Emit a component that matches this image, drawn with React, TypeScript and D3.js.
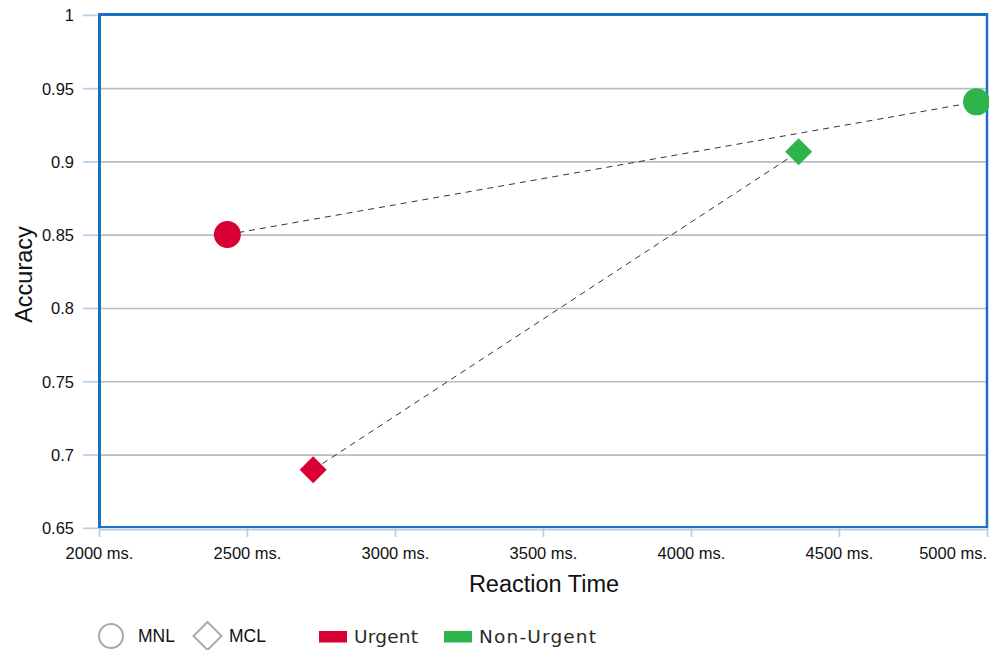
import React from "react";
import * as d3 from "d3";

const groups = ["Urgent", "Non-Urgent"];
const groupColors = ["#d90036", "#2fb44b"];
const models = ["MNL", "MCL"];
const reactionTime: number[][] = [
  [2432, 2722], // Urgent: MNL, MCL
  [4963, 4362], // Non-Urgent: MNL, MCL
];
const accuracy: number[][] = [
  [0.8505, 0.69],
  [0.941, 0.907],
];
const xTicks = [2000, 2500, 3000, 3500, 4000, 4500, 5000];
const yTicks = [0.65, 0.7, 0.75, 0.8, 0.85, 0.9, 0.95, 1];

const W = 989;
const H = 650;
const left = 99.5;
const right = 987.5;
const top = 14.5;
const bottom = 528;

export default function App() {
  const x = d3.scaleLinear().domain([2000, 5000]).range([left, right]);
  const y = d3.scaleLinear().domain([0.65, 1]).range([528.3, 15.4]);
  const sans = "'Liberation Sans', Arial, sans-serif";
  const blue = "#1a70c6";
  const lightBlue = "#b7cde4";
  const diamond = (cx: number, cy: number, r: number) =>
    `M${cx},${cy - r}L${cx + r},${cy}L${cx},${cy + r}L${cx - r},${cy}Z`;

  return (
    <svg width={W} height={H} style={{ position: "absolute", left: 0, top: 0, background: "#fff" }}>
      {/* grid lines */}
      {yTicks.filter((t) => t > 0.65 && t < 1).map((t) => (
        <line key={"g" + t} x1={left} x2={right} y1={y(t)} y2={y(t)} stroke="#bdbdbd" strokeWidth={1.7} />
      ))}
      {/* y ticks */}
      {yTicks.map((t) => (
        <g key={"y" + t}>
          <line x1={83} x2={left} y1={y(t)} y2={y(t)} stroke={lightBlue} strokeWidth={1.7} />
          <text x={74} y={y(t)} dy="0.36em" textAnchor="end" fontFamily={sans} fontSize={16.5} fill="#111">
            {String(t)}
          </text>
        </g>
      ))}
      {/* x axis line & ticks */}
      <line x1={left} x2={right} y1={529.5} y2={529.5} stroke={lightBlue} strokeWidth={2} />
      {xTicks.map((t, i) => (
        <g key={"x" + t}>
          <line x1={x(t)} x2={x(t)} y1={528} y2={537} stroke={lightBlue} strokeWidth={1.7} />
          <text
            x={i === xTicks.length - 1 ? 987 : x(t)}
            y={558.5}
            textAnchor={i === xTicks.length - 1 ? "end" : "middle"}
            fontFamily={sans}
            fontSize={16.5}
            fill="#111"
          >
            {`${t} ms.`}
          </text>
        </g>
      ))}
      {/* frame */}
      <line x1={left} x2={right} y1={top} y2={top} stroke={blue} strokeWidth={3} />
      <line x1={left} x2={left} y1={top - 1.5} y2={bottom} stroke={blue} strokeWidth={3} />
      <line x1={right - 0.5} x2={right - 0.5} y1={top - 1.5} y2={bottom} stroke={blue} strokeWidth={2.5} />
      <line x1={left} x2={right} y1={bottom - 1} y2={bottom - 1} stroke={blue} strokeWidth={2} />
      {/* connecting dashed lines per model */}
      {models.map((m, mi) => (
        <line
          key={"l" + m}
          x1={x(reactionTime[0][mi])}
          y1={y(accuracy[0][mi])}
          x2={x(reactionTime[1][mi])}
          y2={y(accuracy[1][mi])}
          stroke="#333"
          strokeWidth={1}
          strokeDasharray="6,5"
        />
      ))}
      {/* markers */}
      {groups.map((g, gi) =>
        models.map((m, mi) => {
          const cx = x(reactionTime[gi][mi]);
          const cy = y(accuracy[gi][mi]);
          return mi === 0 ? (
            <circle key={g + m} cx={cx} cy={cy} r={13.5} fill={groupColors[gi]} />
          ) : (
            <path key={g + m} d={diamond(cx, cy, 13.5)} fill={groupColors[gi]} />
          );
        })
      )}
      {/* axis titles */}
      <text x={544} y={592} textAnchor="middle" fontFamily={sans} fontSize={23.5} fill="#111">
        Reaction Time
      </text>
      <text
        transform={`translate(32,274.5) rotate(-90)`}
        textAnchor="middle"
        fontFamily={sans}
        fontSize={23.5}
        fill="#111"
      >
        Accuracy
      </text>
      {/* legend: models */}
      <circle cx={111} cy={636} r={12} fill="none" stroke="#aaa" strokeWidth={2} />
      <text x={138} y={641.5} fontFamily={sans} fontSize={17.5} fill="#111">MNL</text>
      <path d={diamond(207.5, 636, 14)} fill="none" stroke="#aaa" strokeWidth={2} />
      <text x={229} y={641.5} fontFamily={sans} fontSize={17.5} fill="#111">MCL</text>
      {/* legend: groups */}
      {groups.map((g, gi) => {
        const lx = gi === 0 ? 319 : 444;
        return (
          <g key={"lg" + g}>
            <rect x={lx} y={631} width={28} height={11.5} fill={groupColors[gi]} />
            <text
              x={lx + 35}
              y={643}
              fontFamily="'DejaVu Sans', sans-serif"
              fontSize={18.5}
              fill="#2a2a2a"
              textLength={gi === 0 ? 64 : 117}
              lengthAdjust="spacing"
            >
              {g}
            </text>
          </g>
        );
      })}
    </svg>
  );
}
